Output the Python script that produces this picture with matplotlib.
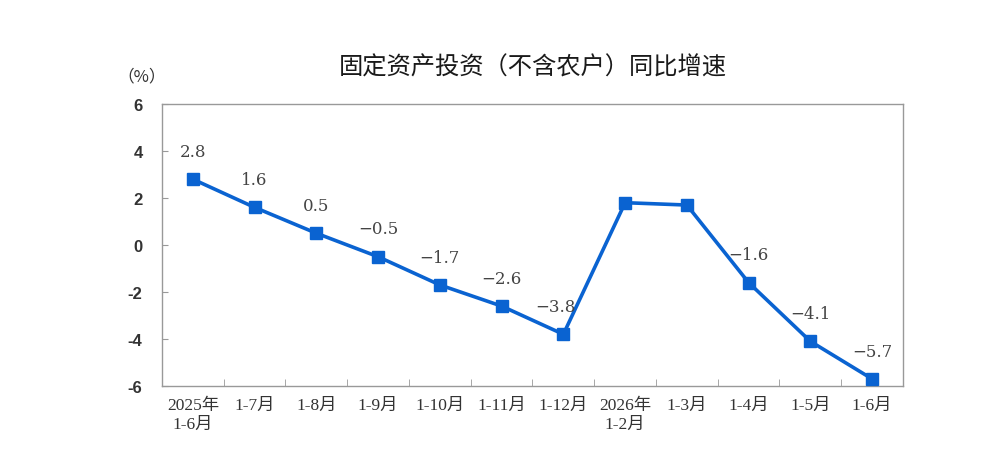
import matplotlib
matplotlib.use("Agg")
import matplotlib.pyplot as plt
import numpy as np

categories = ["2025年\n1-6月", "1-7月", "1-8月", "1-9月", "1-10月", "1-11月", "1-12月",
              "2026年\n1-2月", "1-3月", "1-4月", "1-5月", "1-6月"]
values = [2.8, 1.6, 0.5, -0.5, -1.7, -2.6, -3.8, 1.8, 1.7, -1.6, -4.1, -5.7]
shown_labels = ["2.8", "1.6", "0.5", "−0.5", "−1.7", "−2.6", "−3.8", "", "", "−1.6", "−4.1", "−5.7"]
yticks = [-6, -4, -2, 0, 2, 4, 6]

plt.rcParams['font.family'] = ['Liberation Serif', 'Noto Sans CJK SC']
fig = plt.figure(figsize=(9.87, 4.77), dpi=100)
ax = fig.add_axes([0.1641, 0.1887, 0.7508, 0.5912])

color = '#0a63d1'
x = np.arange(len(categories))
ax.plot(x, values, color=color, lw=2.6, marker='s', ms=8, zorder=3)
for i, (xi, v, lab) in enumerate(zip(x, values, shown_labels)):
    if lab:
        dx = -6 if i == 6 else 0
        ax.annotate(lab, (xi, v), xytext=(dx, 20), textcoords='offset points',
                    ha='center', va='center', fontsize=12, color='#444444',
                    family=['DejaVu Serif'])

ax.set_xlim(-0.5, len(categories) - 0.5)
ax.set_ylim(-6, 6)
ax.set_yticks(yticks)
ax.set_yticklabels([str(t) for t in yticks], fontsize=12, fontweight='bold',
                   family=['Liberation Sans'], color='#333333')
ax.tick_params(axis='y', direction='in', length=4, color='#999999', pad=14)

ax.set_xticks(x)
ax.set_xticklabels(categories, fontsize=12.5, color='#333333', linespacing=1.2,
                   family=['Liberation Serif', 'Noto Sans CJK SC'])
ax.tick_params(axis='x', which='major', length=0, pad=8)
ax.set_xticks(np.arange(0.5, len(categories) - 0.5, 1), minor=True)
ax.tick_params(axis='x', which='minor', direction='in', length=5, color='#999999')

for s in ax.spines.values():
    s.set_color('#999999')
    s.set_linewidth(1.0)

ax.set_title("固定资产投资（不含农户）同比增速", fontsize=17.5, pad=22,
             family=['Noto Sans CJK SC'], color='#1a1a1a', fontweight='medium')
fig.text(0.143, 0.8386, "（%）", fontsize=12, ha='center', va='center',
         family=['Noto Sans CJK SC'], color='#333333')

fig.savefig("out.png", dpi=100, facecolor='white')
